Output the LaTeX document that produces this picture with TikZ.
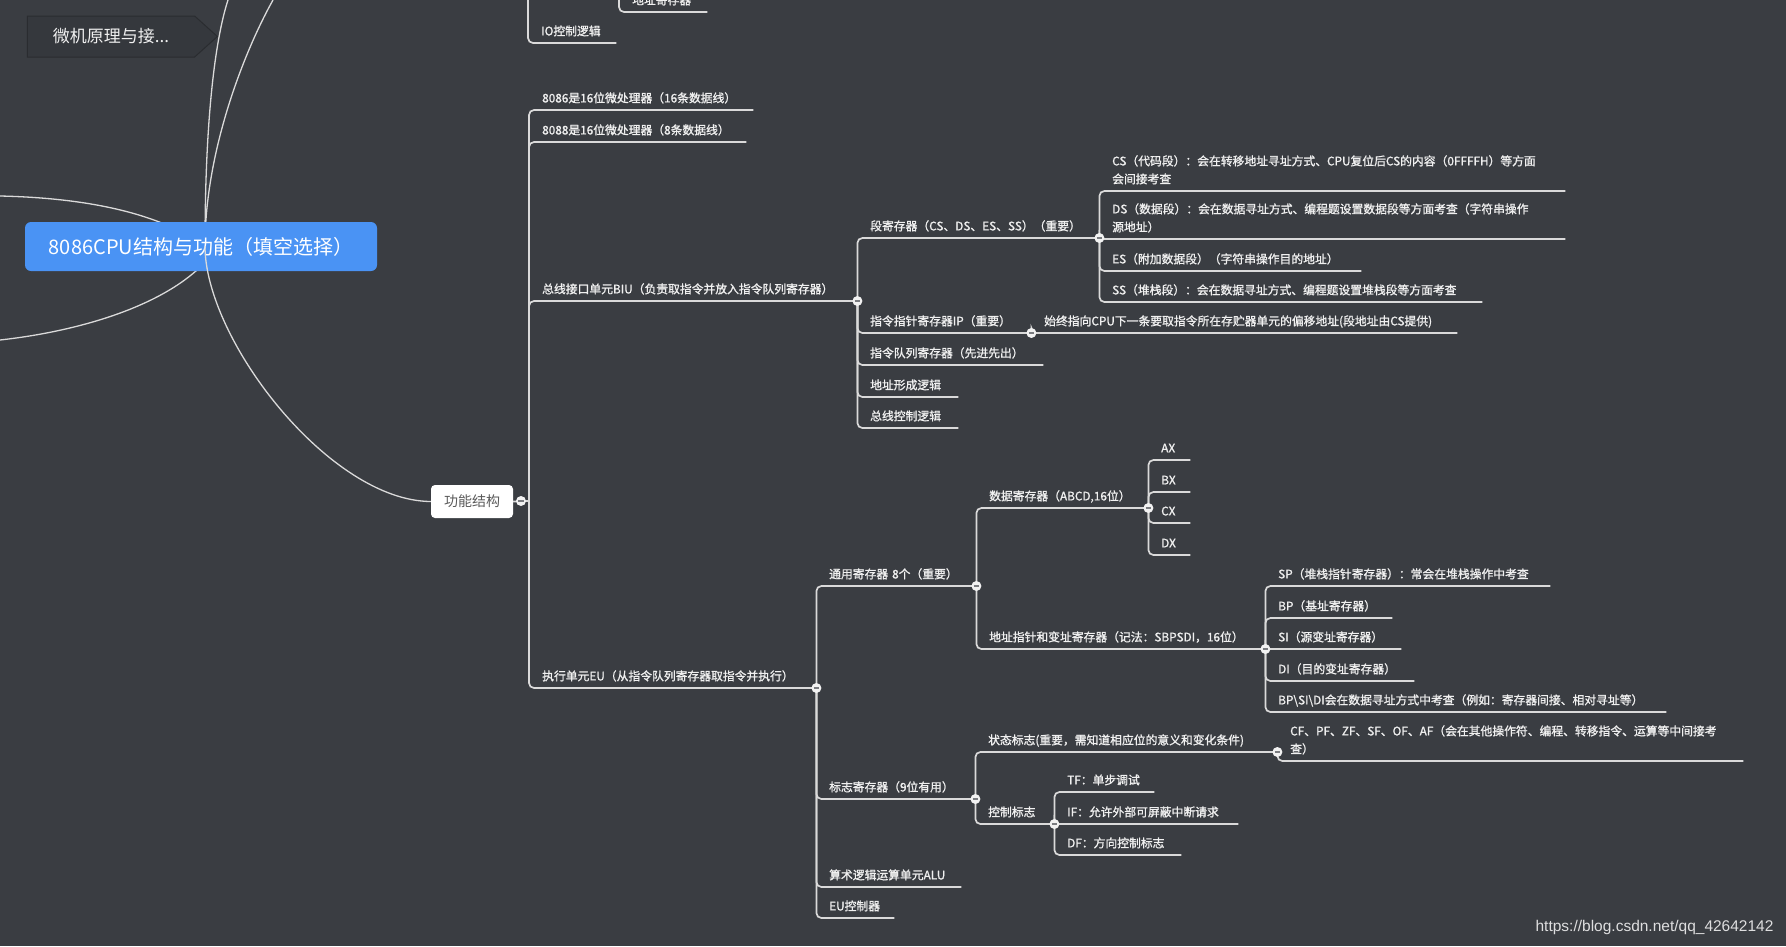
\documentclass[tikz,border=0pt]{standalone}
\usepackage{fontspec}
\setmainfont{Noto Sans CJK SC}
\newfontfamily\tpfont{Noto Sans CJK SC}[FakeBold=1.2]
\newfontfamily\wmfont{Liberation Sans}
\usetikzlibrary{calc,shapes.symbols}
\definecolor{bgc}{HTML}{3A3D42}
\definecolor{linec}{HTML}{DADADA}
\definecolor{txtc}{HTML}{F0F0F0}
\definecolor{bluec}{HTML}{4A93F4}
\definecolor{foldc}{HTML}{F2F2F2}
\definecolor{minusc}{HTML}{7A7C80}
\definecolor{grayt}{HTML}{5A5A5A}
\definecolor{edgec}{HTML}{2A2C30}
\tikzset{
  topic/.style={anchor=south west, inner xsep=0pt, inner ysep=2pt, align=left, text=txtc,
    font=\tpfont\fontsize{11.8}{18}\selectfont, execute at end node=\strut},
  conn/.style={draw=linec, line width=1.7pt, rounded corners=5pt},
  curve/.style={draw=linec, line width=1.3pt},
  fold/.style={circle, fill=foldc, inner sep=0pt, minimum size=10pt, text=minusc},
}
% topic: (name)(bar x, underline y, underline end x){text}
\def\topic(#1)(#2,#3,#4)#5{\node[topic, text width=#4-#2-13] (#1) at (#2+13,#3) {#5};}
% fold mark at the end of an underline
\def\fold(#1){\node[fold] (#1-f) at (#1.south east) {\rule[-0.75pt]{5.5pt}{1.5pt}};}

\begin{document}
\begin{tikzpicture}[x=1pt,y=-1pt]
			%%%%% START %%%%%
			\useasboundingbox (0,0) rectangle (1786,946);
			\fill[bgc] (0,0) rectangle (1786,946);
			\clip (0,0) rectangle (1786,946);
			
			% curves round the main topic
			\coordinate (hub) at (205,246);
			\coordinate (left1) at (0,196);
			\coordinate (left2) at (0,340);
			\coordinate (up1) at (228,0);
			\coordinate (up2) at (273,0);
			\draw[curve] (left1) .. controls (90,198) and (160,214) .. (hub);
			\draw[curve] (left2) .. controls (90,330) and (180,300) .. (215,250);
			\draw[curve] (hub) .. controls (205,120) and (215,40) .. (up1);
			\draw[curve] (hub) .. controls (205,150) and (245,50) .. (up2);
			
			\node[signal, signal to=east, signal pointer angle=84, draw=edgec, fill=bgc!92!black, line width=1pt,
			  minimum width=190, minimum height=41, text=txtc, font=\fontsize{17}{20}\selectfont] (wj) at (111,36.5) {微机原理与接...};
			\node[rounded corners=6pt, fill=bluec, minimum width=352, minimum height=49, text=white,
			  font=\fontsize{20}{24}\selectfont] (cpu) at (201,246.5) {8086CPU结构与功能（填空选择）};
			\node[rounded corners=4pt, fill=white, minimum width=82, minimum height=33, text=grayt,
			  font=\fontsize{14}{16}\selectfont] (gn) at (472,501.5) {功能结构};
			\draw[curve] (hub) .. controls (205,340) and (330,501) .. (gn.west);
			
			% branch cut off at the top
			\coordinate (top1) at (528,-40);
			\coordinate (top2) at (619,-40);
			\topic(addrreg)(619,12,707){地址寄存器}
			\topic(io)(528,43,616){IO控制逻辑}
			\draw[conn] (top1) |- (io.south east);
			\draw[conn] (top2) |- (addrreg.south east);
			
			% 功能结构
			\coordinate (gn-hub) at (529,501);
			\topic(p8086)(529,110,753){8086是16位微处理器（16条数据线）}
			\topic(p8088)(529,142,746){8088是16位微处理器（8条数据线）}
			\topic(biu)(529,301,857){总线接口单元BIU（负责取指令并放入指令队列寄存器）}
			\topic(eu)(529,688,816){执行单元EU（从指令队列寄存器取指令并执行）}
			\draw[conn] (gn.east) -- (gn-hub);
			\foreach \t in {p8086,p8088,biu,eu}
			  \draw[conn] (gn-hub) |- (\t.south east);
			
			% BIU
			\topic(seg)(857,238,1099){段寄存器（CS、DS、ES、SS）（重要）}
			\topic(ip)(857,333,1031){指令指针寄存器IP（重要）}
			\topic(queue)(857,365,1043){指令队列寄存器（先进先出）}
			\topic(addr)(857,397,958){地址形成逻辑}
			\topic(busctl)(857,428,958){总线控制逻辑}
			\foreach \t in {seg,ip,queue,addr,busctl}
			  \draw[conn] (biu.south east) |- (\t.south east);
			
			\topic(cs)(1099,191,1565){CS（代码段）：会在转移地址寻址方式、CPU复位后CS的内容（0FFFFH）等方面\\会间接考查}
			\topic(ds)(1099,239,1565){DS（数据段）：会在数据寻址方式、编程题设置数据段等方面考查（字符串操作\\源地址）}
			\topic(es)(1099,271,1361){ES（附加数据段）（字符串操作目的地址）}
			\topic(ss)(1099,302,1482){SS（堆栈段）：会在数据寻址方式、编程题设置堆栈段等方面考查}
			\foreach \t in {cs,ds,es,ss}
			  \draw[conn] (seg.south east) |- (\t.south east);
			
			\topic(ipnote)(1031,333,1457){始终指向CPU下一条要取指令所在存贮器单元的偏移地址(段地址由CS提供)}
			\draw[conn] (ip.south east) |- (ipnote.south east);
			
			% EU
			\topic(gp)(816,586,976){通用寄存器 8个（重要）}
			\topic(flag)(816,799,975){标志寄存器（9位有用）}
			\topic(alu)(816,887,961){算术逻辑运算单元ALU}
			\topic(euctl)(816,918,894){EU控制器}
			\foreach \t in {gp,flag,alu,euctl}
			  \draw[conn] (eu.south east) |- (\t.south east);
			
			\topic(data)(976,508,1148){数据寄存器（ABCD,16位）}
			\topic(ptr)(976,649,1265){地址指针和变址寄存器（记法：SBPSDI，16位）}
			\foreach \t in {data,ptr}
			  \draw[conn] (gp.south east) |- (\t.south east);
			
			\topic(ax)(1148,460,1190){AX}
			\topic(bx)(1148,492,1190){BX}
			\topic(cx)(1148,523,1190){CX}
			\topic(dx)(1148,555,1190){DX}
			\foreach \t in {ax,bx,cx,dx}
			  \draw[conn] (data.south east) |- (\t.south east);
			
			\topic(sp)(1265,586,1550){SP（堆栈指针寄存器）：常会在堆栈操作中考查}
			\topic(bp)(1265,618,1392){BP（基址寄存器）}
			\topic(si)(1265,649,1401){SI（源变址寄存器）}
			\topic(di)(1265,681,1414){DI（目的变址寄存器）}
			\topic(bsd)(1265,712,1666){BP\textbackslash SI\textbackslash DI会在数据寻址方式中考查（例如：寄存器间接、相对寻址等）}
			\foreach \t in {sp,bp,si,di,bsd}
			  \draw[conn] (ptr.south east) |- (\t.south east);
			
			\topic(state)(975,752,1277){状态标志(重要，需知道相应位的意义和变化条件)}
			\topic(ctrl)(975,824,1054){控制标志}
			\foreach \t in {state,ctrl}
			  \draw[conn] (flag.south east) |- (\t.south east);
			
			\topic(cf)(1277,761,1743){CF、PF、ZF、SF、OF、AF（会在其他操作符、编程、转移指令、运算等中间接考\\查）}
			\draw[conn] (state.south east) |- (cf.south east);
			
			\topic(tf)(1054,792,1154){TF：单步调试}
			\topic(iff)(1054,824,1238){IF：允许外部可屏蔽中断请求}
			\topic(df)(1054,855,1181){DF：方向控制标志}
			\foreach \t in {tf,iff,df}
			  \draw[conn] (ctrl.south east) |- (\t.south east);
			
			% fold marks
			\node[fold] (gn-f) at (521,501) {\rule[-0.75pt]{5.5pt}{1.5pt}};
			\foreach \t in {biu,seg,ip,eu,gp,data,ptr,flag,state,ctrl}
			  {\fold(\t)}
			
			\node[anchor=east, text=txtc!90!bgc, font=\wmfont\fontsize{15.5}{18}\selectfont] (wm) at (1777,927) {https://blog.csdn.net/qq\_42642142};
			%%%%% END %%%%%
\end{tikzpicture}
\end{document}
